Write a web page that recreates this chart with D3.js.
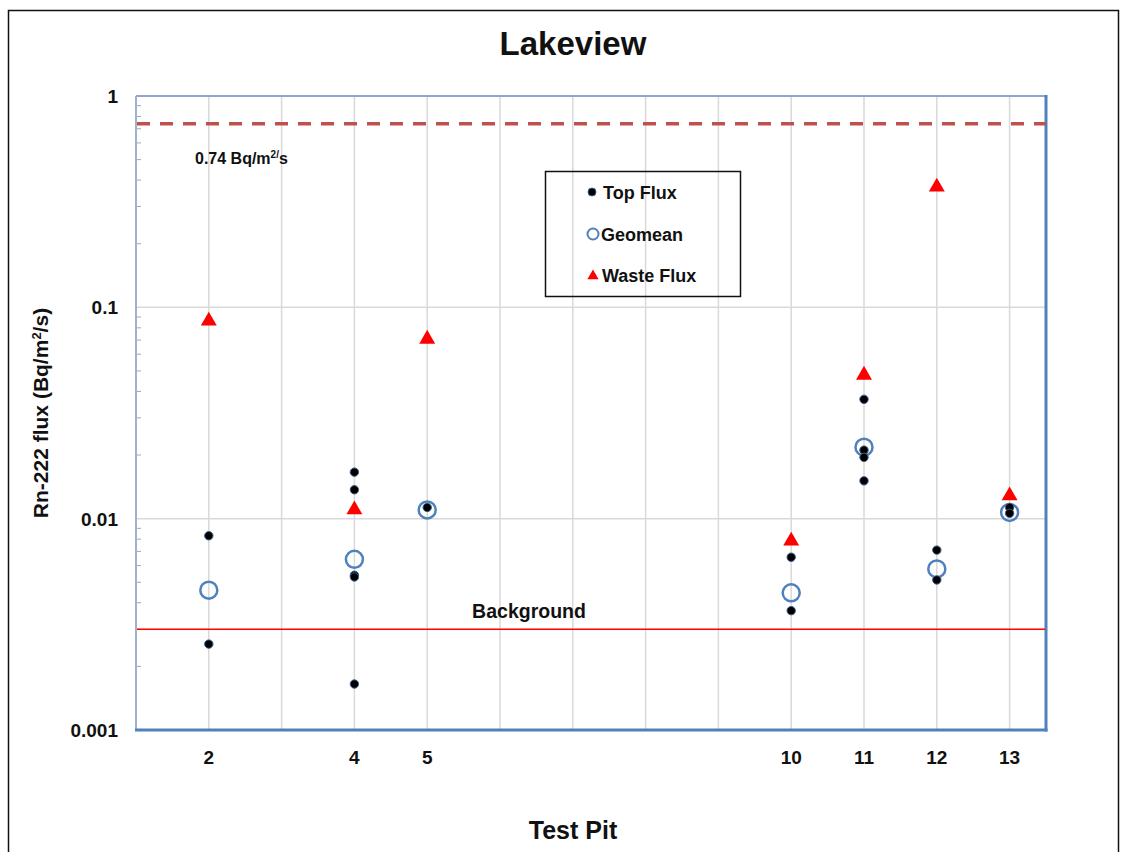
<!DOCTYPE html>
<html>
<head>
<meta charset="utf-8">
<script src="https://cdn.jsdelivr.net/npm/d3@7"></script>
<style>
  body { margin: 0; background: #fff; }
  text { font-family: Arial, "Liberation Sans", sans-serif; font-weight: bold; fill: #111; }
</style>
</head>
<body>
<script>
// test pits and measured values (Bq/m2/s)
const pits = [2, 4, 5, 10, 11, 12, 13];
const xTicks = [2, 4, 5, 10, 11, 12, 13];
const yTicks = [0.001, 0.01, 0.1, 1];

// top flux readings, one row per point
const topPit = [2, 2, 4, 4, 4, 4, 4, 5, 10, 10, 11, 11, 11, 11, 12, 12, 13, 13];
const topFlux = [0.0083, 0.00255, 0.0166, 0.0137, 0.0054, 0.0053, 0.00165, 0.0113, 0.00657, 0.00367, 0.0367, 0.0211, 0.0195, 0.0151, 0.0071, 0.00513, 0.0113, 0.0106];

const geomean = [0.00459, 0.00642, 0.0110, 0.00446, 0.0218, 0.00578, 0.0107];
const wasteFlux = [0.0853, 0.0109, 0.070, 0.00776, 0.0473, 0.367, 0.0127];

const limit = 0.74;
const background = 0.003;

const W = 1130, H = 852;
const m = { left: 136, top: 96, right: 1046, bottom: 730 };

const svg = d3.select('body').append('svg')
  .attr('width', W)
  .attr('height', H);

// outer frame
svg.append('path')
  .attr('d', `M8.5,${H} V10.5 H1118.5 V${H}`)
  .attr('fill', 'none')
  .attr('stroke', '#111')
  .attr('stroke-width', 1.5);

const x = d3.scaleLinear().domain([1, 13.5]).range([m.left, m.right]);
const y = d3.scaleLog().domain([0.001, 1]).range([m.bottom, m.top]);

// gridlines
svg.append('g').selectAll('line')
  .data(d3.range(2, 14))
  .enter().append('line')
  .attr('x1', d => x(d)).attr('x2', d => x(d))
  .attr('y1', m.top).attr('y2', m.bottom)
  .attr('stroke', '#d9d9d9').attr('stroke-width', 1.5);

svg.append('g').selectAll('line')
  .data([0.01, 0.1])
  .enter().append('line')
  .attr('x1', m.left).attr('x2', m.right)
  .attr('y1', d => y(d)).attr('y2', d => y(d))
  .attr('stroke', '#d9d9d9').attr('stroke-width', 1.5);

// minor ticks on the left edge
const minor = [];
[0.001, 0.01, 0.1].forEach(b => { for (let k = 2; k <= 9; k++) minor.push(b * k); });
svg.append('g').selectAll('line')
  .data(minor)
  .enter().append('line')
  .attr('x1', m.left).attr('x2', m.left + 5)
  .attr('y1', d => y(d)).attr('y2', d => y(d))
  .attr('stroke', '#9aa9bd').attr('stroke-width', 1);

// plot frame
svg.append('line').attr('x1', m.left).attr('x2', m.right).attr('y1', m.top).attr('y2', m.top)
  .attr('stroke', '#8ea6c8').attr('stroke-width', 2);
svg.append('line').attr('x1', m.left).attr('x2', m.left).attr('y1', m.top).attr('y2', m.bottom)
  .attr('stroke', '#9fb3cf').attr('stroke-width', 2);
svg.append('line').attr('x1', m.right).attr('x2', m.right).attr('y1', m.top - 1).attr('y2', m.bottom + 1.5)
  .attr('stroke', '#4f81bd').attr('stroke-width', 3);
svg.append('line').attr('x1', m.left - 1).attr('x2', m.right + 1.5).attr('y1', m.bottom).attr('y2', m.bottom)
  .attr('stroke', '#4f81bd').attr('stroke-width', 3);

// y tick labels
svg.append('g').selectAll('text')
  .data(yTicks)
  .enter().append('text')
  .attr('x', 118).attr('y', d => y(d) + 7)
  .attr('text-anchor', 'end')
  .style('font-size', '19px')
  .text(d => d);

// x tick labels
svg.append('g').selectAll('text')
  .data(xTicks)
  .enter().append('text')
  .attr('x', d => x(d)).attr('y', 764)
  .attr('text-anchor', 'middle')
  .style('font-size', '19px')
  .text(d => d);

// reference lines
svg.append('line')
  .attr('x1', m.left + 1).attr('x2', m.right)
  .attr('y1', y(limit)).attr('y2', y(limit))
  .attr('stroke', '#c0504d').attr('stroke-width', 3.5)
  .attr('stroke-dasharray', '13,10');

svg.append('line')
  .attr('x1', m.left + 1).attr('x2', m.right - 1)
  .attr('y1', y(background)).attr('y2', y(background))
  .attr('stroke', '#ff0000').attr('stroke-width', 1.5);

svg.append('text').attr('x', 195).attr('y', 164).style('font-size', '16px')
  .html('0.74 Bq/m<tspan dy="-6" font-size="10px">2/</tspan><tspan dy="6">s</tspan>');

svg.append('text').attr('x', 529).attr('y', 618).attr('text-anchor', 'middle')
  .style('font-size', '19.5px').text('Background');

// markers
const tri = d3.symbol().type(d3.symbolTriangle).size(110);

svg.append('g').selectAll('path')
  .data(pits)
  .enter().append('path')
  .attr('d', tri)
  .attr('transform', (d, i) => `translate(${x(d)},${y(wasteFlux[i]) - 1})`)
  .attr('fill', '#ff0000');

svg.append('g').selectAll('circle')
  .data(pits)
  .enter().append('circle')
  .attr('cx', d => x(d))
  .attr('cy', (d, i) => y(geomean[i]))
  .attr('r', 8.5)
  .attr('fill', 'none')
  .attr('stroke', '#4f81bd')
  .attr('stroke-width', 2.5);

svg.append('g').selectAll('circle')
  .data(topPit)
  .enter().append('circle')
  .attr('cx', d => x(d))
  .attr('cy', (d, i) => y(topFlux[i]))
  .attr('r', 4.2)
  .attr('fill', '#000')
  .attr('stroke', '#3c5f8a')
  .attr('stroke-width', 1);

// legend
const lg = svg.append('g');
lg.append('rect').attr('x', 545.5).attr('y', 171.5).attr('width', 195).attr('height', 125)
  .attr('fill', 'none').attr('stroke', '#111').attr('stroke-width', 1.5);
lg.append('circle').attr('cx', 592).attr('cy', 192).attr('r', 4)
  .attr('fill', '#000').attr('stroke', '#3c5f8a');
lg.append('text').attr('x', 603).attr('y', 198.5).style('font-size', '18px').text('Top Flux');
lg.append('circle').attr('cx', 593).attr('cy', 234).attr('r', 5.5)
  .attr('fill', 'none').attr('stroke', '#4f81bd').attr('stroke-width', 2);
lg.append('text').attr('x', 601).attr('y', 240.5).style('font-size', '18px').text('Geomean');
lg.append('path').attr('d', d3.symbol().type(d3.symbolTriangle).size(55))
  .attr('transform', 'translate(593,276)').attr('fill', '#ff0000');
lg.append('text').attr('x', 602).attr('y', 281.5).style('font-size', '18px').text('Waste Flux');

// titles
svg.append('text').attr('x', 573).attr('y', 55).attr('text-anchor', 'middle')
  .style('font-size', '33px').text('Lakeview');

svg.append('text').attr('x', 573).attr('y', 839).attr('text-anchor', 'middle')
  .style('font-size', '25px').text('Test Pit');

svg.append('text')
  .attr('transform', 'translate(48,413) rotate(-90)')
  .attr('text-anchor', 'middle')
  .style('font-size', '21px')
  .html('Rn-222 flux (Bq/m<tspan dy="-7" font-size="13px">2</tspan><tspan dy="7">/s)</tspan>');
</script>
</body>
</html>
